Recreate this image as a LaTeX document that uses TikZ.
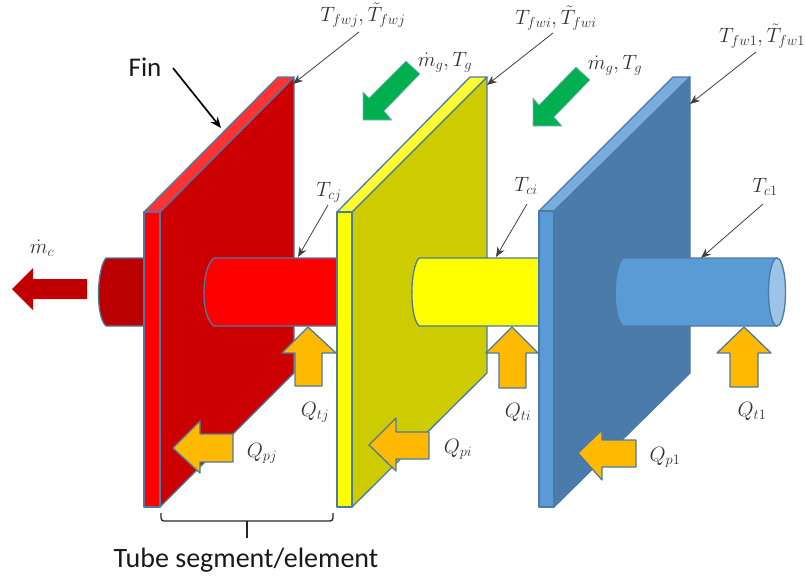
\documentclass[tikz,border=0pt]{standalone}
\usepackage{fontspec}
\setmainfont{Carlito}
\usetikzlibrary{arrows.meta}
\definecolor{edge}{HTML}{4A7BA6}
\definecolor{redface}{HTML}{CC0000}
\definecolor{redtop}{HTML}{FF3333}
\definecolor{redfront}{HTML}{FF0000}
\definecolor{stub}{HTML}{BB0000}
\definecolor{yelface}{HTML}{CCCC00}
\definecolor{yeltop}{HTML}{FFFF33}
\definecolor{yelfront}{HTML}{FFFF00}
\definecolor{bluface}{HTML}{4A7BAB}
\definecolor{blutop}{HTML}{7AADDC}
\definecolor{blufront}{HTML}{5B9BD5}
\definecolor{blucap}{HTML}{9DC3E6}
\definecolor{greenarrow}{HTML}{00B050}
\definecolor{orangearrow}{HTML}{FFBA00}
\definecolor{darkred}{HTML}{C00000}
\tikzset{
  part/.style={draw=edge,line width=1.3pt,line join=round},
  heat/.style={part,fill=orangearrow},
  gas/.style={draw=edge!60,line width=.6pt,fill=greenarrow},
  outflow/.style={fill=darkred},
  pointer/.style={draw=black!75,line width=.8pt,-{Stealth[length=10pt,width=8pt]}},
  finpointer/.style={draw=black,line width=1.7pt,-{Stealth[length=11pt,width=9pt]}},
  lab/.style={inner sep=0pt,font=\fontsize{20}{22}\selectfont,text=black!80},
  txt/.style={inner sep=0pt,text=black!90}
}
\begin{document}
\begin{tikzpicture}[x=1pt,y=-1pt]
\useasboundingbox (0,0) rectangle (805,579);
% stub
\path[part,fill=stub] (144,258) -- (106,258) .. controls (97,268) and (95,316) .. (106,326) -- (144,326) -- cycle;
% red fin
\path[part,fill=redface] (160,212) -- (294,77) -- (294,373) -- (160,507) -- cycle;
\path[part,fill=redtop] (144,212) -- (160,212) -- (294,77) -- (278,77) -- cycle;
\path[part,fill=redfront] (144,212) rectangle (160,507);
\path[part,fill=redfront] (337,258) -- (214,258) .. controls (201,268) and (200,316) .. (214,326) -- (337,326) -- cycle;
% yellow fin
\path[part,fill=yelface] (352,212) -- (487,77) -- (487,373) -- (352,507) -- cycle;
\path[part,fill=yeltop] (337,212) -- (352,212) -- (487,77) -- (470,77) -- cycle;
\path[part,fill=yelfront] (337,212) rectangle (352,507);
\path[part,fill=yelfront] (539,258) -- (419,258) .. controls (410,268) and (409,316) .. (419,326) -- (539,326) -- cycle;
% blue fin
\path[part,fill=bluface] (554,211) -- (690,77) -- (690,373) -- (554,507) -- cycle;
\path[part,fill=blutop] (539,211) -- (554,211) -- (690,77) -- (673,77) -- cycle;
\path[part,fill=blufront] (539,211) rectangle (554,507);
\path[part,fill=blufront] (777,258) -- (623,258) .. controls (613,268) and (612,316) .. (623,326) -- (777,326) -- cycle;
\path[part,fill=blucap] (777,292) ellipse [x radius=8.5, y radius=34];
% up arrows
\path[heat] (308,327) -- (336,353) -- (322,353) -- (322,386) -- (295,386) -- (295,353) -- (282,353) -- cycle;
\path[heat] (512,327) -- (538,353) -- (526,353) -- (526,388) -- (499,388) -- (499,353) -- (486,353) -- cycle;
\path[heat] (744,327) -- (771,353) -- (758,353) -- (758,387) -- (730,387) -- (730,353) -- (717,353) -- cycle;
% left arrows
\path[heat] (173,448) -- (200,421) -- (200,434) -- (233,434) -- (233,462) -- (200,462) -- (200,473) -- cycle;
\path[heat] (369,445) -- (396,418) -- (396,432) -- (429,432) -- (429,459) -- (396,459) -- (396,471) -- cycle;
\path[heat] (578,453) -- (602,430) -- (602,440) -- (636,440) -- (636,467) -- (602,467) -- (602,480) -- cycle;
% gas arrows
\path[gas] (363,120) -- (363,92) -- (369,98) -- (406,61) -- (420,74) -- (384,111) -- (392,120) -- cycle;
\path[gas] (533,126) -- (533,98) -- (539,105) -- (576,67) -- (590,80) -- (554,117) -- (562,126) -- cycle;
% outflow arrow
\path[outflow] (12,289) -- (33,268) -- (33,279) -- (87,279) -- (87,299) -- (33,299) -- (33,310) -- cycle;
% brace
\draw[black!85,line width=1.3pt,rounded corners=3pt] (161,513) -- (161,521) -- (333,521) -- (333,513);
\coordinate (braceMid) at (247,521);
\coordinate (braceEnd) at (247,538);
\draw[black!85,line width=1.3pt] (braceMid) -- (braceEnd);
% labels
\node[txt,font=\fontsize{27}{30}\selectfont] (fin) at (145,67) {Fin};
\node[txt,font=\fontsize{28}{31}\selectfont] (tube) at (246,560) {Tube segment/element};
\node[lab] (tfwj) at (363,15) {$T_{fwj},\tilde{T}_{fwj}$};
\node[lab] (tfwi) at (556,18) {$T_{fwi},\tilde{T}_{fwi}$};
\node[lab] (tfw1) at (762,36) {$T_{fw1},\tilde{T}_{fw1}$};
\node[lab] (mg1) at (445,62) {$\dot{m}_g,T_g$};
\node[lab] (mg2) at (615,65) {$\dot{m}_g,T_g$};
\node[lab] (tcj) at (329,192) {$T_{cj}$};
\node[lab] (tci) at (526,186) {$T_{ci}$};
\node[lab] (tc1) at (765,187) {$T_{c1}$};
\node[lab] (mc) at (42,248) {$\dot{m}_c$};
\node[lab] (qtj) at (315,412) {$Q_{tj}$};
\node[lab] (qti) at (518,412) {$Q_{ti}$};
\node[lab] (qt1) at (752,411) {$Q_{t1}$};
\node[lab] (qpj) at (262,453) {$Q_{pj}$};
\node[lab] (qpi) at (458,449) {$Q_{pi}$};
\node[lab] (qp1) at (665,457) {$Q_{p1}$};
% pointer ends
\coordinate (finS) at (173,68);   \coordinate (finE) at (221,128);
\coordinate (a1) at (359,32);     \coordinate (a2) at (293,84);
\coordinate (b1) at (553,33);     \coordinate (b2) at (487,85);
\coordinate (c1) at (756,52);     \coordinate (c2) at (690,104);
\coordinate (d1) at (328,205);    \coordinate (d2) at (298,257);
\coordinate (e1) at (527,204);    \coordinate (e2) at (496,257);
\coordinate (f1) at (763,204);    \coordinate (f2) at (701,258);
\draw[finpointer] (finS) -- (finE);
\draw[pointer] (a1) -- (a2);
\draw[pointer] (b1) -- (b2);
\draw[pointer] (c1) -- (c2);
\draw[pointer] (d1) -- (d2);
\draw[pointer] (e1) -- (e2);
\draw[pointer] (f1) -- (f2);
\end{tikzpicture}
\end{document}
